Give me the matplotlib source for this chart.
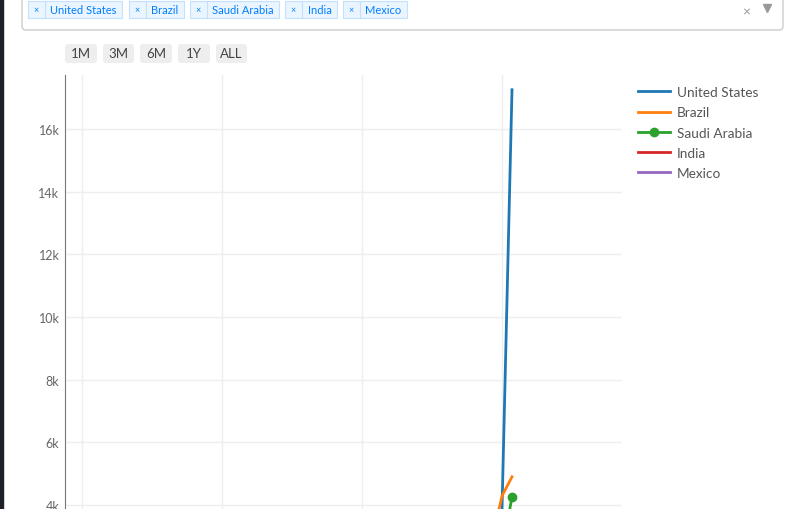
import matplotlib
matplotlib.use("Agg")
import matplotlib.pyplot as plt
import matplotlib.dates as mdates
from matplotlib.patches import FancyBboxPatch, Rectangle
from matplotlib.ticker import FuncFormatter, MultipleLocator
import datetime as dt

plt.rcParams['font.family'] = ['Lato', 'DejaVu Sans']

# data (only the top of the chart is visible, lower values are estimated)
dates = ["2020-03-01", "2020-03-08", "2020-03-15", "2020-03-22", "2020-03-29",
         "2020-04-05", "2020-04-11", "2020-04-12", "2020-04-13"]
us = [30, 200, 800, 1500, 2200, 2800, 3300, 3850, 17250]
brazil = [10, 100, 400, 900, 1500, 2100, 2900, 4290, 4900]
saudi = [5, 50, 200, 500, 900, 1400, 1900, 2500, 4260]
india = [3, 30, 120, 300, 600, 900, 1200, 1400, 1600]
mexico = [2, 20, 90, 250, 450, 700, 950, 1100, 1300]
countries = ["United States", "Brazil", "Saudi Arabia", "India", "Mexico"]
colors = ["#1f77b4", "#ff7f0e", "#2ca02c", "#d62728", "#9467bd"]
ranges = ["1M", "3M", "6M", "1Y", "ALL"]

x = [dt.datetime.strptime(d, "%Y-%m-%d") for d in dates]
series = [us, brazil, saudi, india, mexico]

W, H = 800, 510
fig = plt.figure(figsize=(8, 5.1), dpi=100)
fig.patch.set_facecolor("white")

# plot area (bottom runs off the screenshot)
ax_top, ax_bot = 76, 631.4
ax = fig.add_axes([65 / W, (H - ax_bot) / H, 557 / W, (ax_bot - ax_top) / H])
for name, vals, c in zip(countries, series, colors):
    if name == "Saudi Arabia":
        ax.plot(x, vals, color=c, lw=2, marker="o", ms=6, label=name)
    else:
        ax.plot(x, vals, color=c, lw=2, label=name)

x0 = mdates.date2num(dt.datetime(2020, 3, 1))
ax.set_xlim(x0 - 1.7, x0 + 54)
ax.set_ylim(0, 17720)
ax.set_xticks([x0 + 14 * i for i in range(4)])
ax.yaxis.set_major_locator(MultipleLocator(2000))
# labels under 4k sit below the visible screenshot
ax.yaxis.set_major_formatter(FuncFormatter(lambda v, p: "%dk" % (v / 1000) if v >= 4000 else ""))
ax.grid(True, color="#eeeeee", lw=1)
ax.set_axisbelow(True)
for s in ["top", "right", "bottom"]:
    ax.spines[s].set_visible(False)
ax.spines["left"].set_color("#777777")
ax.tick_params(length=0, pad=4, labelsize=9, labelcolor="#666666")
ax.tick_params(axis="x", labelbottom=False)

leg = ax.legend(loc="upper left", bbox_to_anchor=(638 / W, (H - 87) / H),
                bbox_transform=fig.transFigure, frameon=False, fontsize=9.8,
                handlelength=2.35, handletextpad=0.5, labelspacing=0.61,
                borderaxespad=0, borderpad=0)
for t in leg.get_texts():
    t.set_color("#555555")

# overlay for the page elements
ui = fig.add_axes([0, 0, 1, 1])
ui.set_xlim(0, W)
ui.set_ylim(H, 0)
ui.axis("off")
ui.patch.set_alpha(0)

# dark page edge
ui.add_patch(Rectangle((0, 0), 3, H, color="#1d2026", zorder=5))

# dropdown box
ui.add_patch(FancyBboxPatch((22, -10), 761, 41, boxstyle="round,pad=0,rounding_size=4",
                            fc="white", ec="#cccccc", lw=1))
chip_x = [28, 129, 190, 285, 343]
chip_w = [94, 55, 89, 52, 64]
for name, cx, cw in zip(countries, chip_x, chip_w):
    ui.add_patch(Rectangle((cx, 2), cw, 17, fc="#ebf5ff", ec="#c2e0ff", lw=0.8))
    ui.plot([cx + 17, cx + 17], [2, 19], color="#c2e0ff", lw=0.8)
    ui.text(cx + 8.5, 10.5, "\u00d7", ha="center", va="center", fontsize=6.5, color="#007eff")
    ui.text(cx + 17 + (cw - 17) / 2, 10.5, name, ha="center", va="center",
            fontsize=8, color="#007eff")
ui.text(746, 12, "\u00d7", ha="center", va="center", fontsize=10, color="#999999")
ui.plot([767], [9], marker="v", ms=6, color="#999999")

# range selector buttons
btn_x = [65, 103, 140, 178, 216]
btn_w = [32, 31, 32, 32, 31]
for lab, bx, bw in zip(ranges, btn_x, btn_w):
    ui.add_patch(FancyBboxPatch((bx, 45), bw, 19, boxstyle="round,pad=0,rounding_size=3",
                                fc="#eeeeee", ec="none"))
    ui.text(bx + bw / 2, 54.5, lab, ha="center", va="center", fontsize=9.5, color="#444444")

fig.savefig("out.png", dpi=100)
